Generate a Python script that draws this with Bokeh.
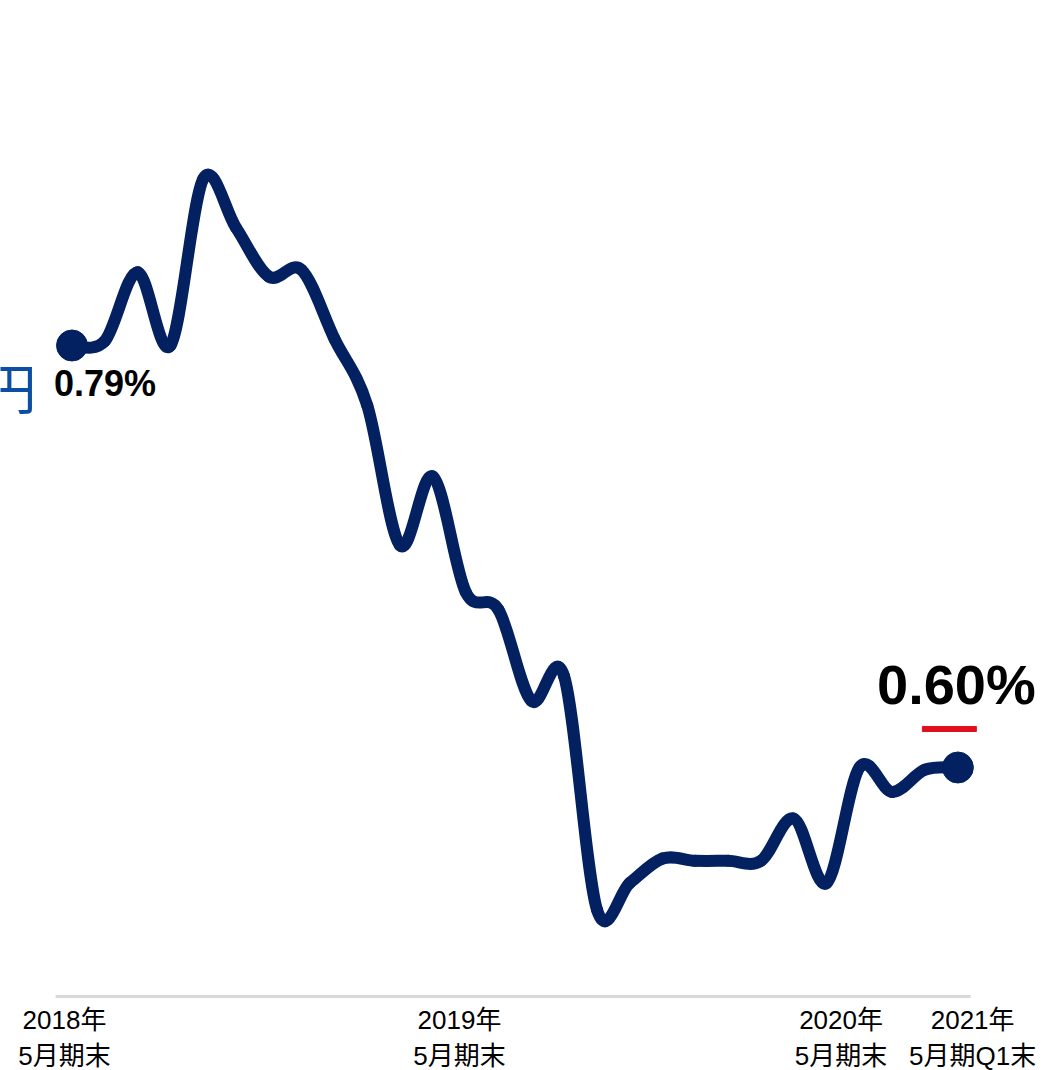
from bokeh.plotting import figure
from bokeh.models import Range1d, Label, ColumnDataSource
from bokeh.core.properties import value
from bokeh.embed import file_html
from bokeh.resources import INLINE

# ---- data (percent values, one per period) ----
periods = list(range(28))
rates = [0.790, 0.792, 0.823, 0.790, 0.865, 0.843, 0.821, 0.824, 0.793, 0.763,
         0.700, 0.731, 0.679, 0.671, 0.630, 0.641, 0.536, 0.548, 0.559, 0.558,
         0.558, 0.558, 0.577, 0.548, 0.600, 0.589, 0.599, 0.600]
tick_labels = ["2018年\n5月期末", "2019年\n5月期末", "2020年\n5月期末", "2021年\n5月期Q1末"]
start_label = "0.79%"
end_label = "0.60%"
side_char = "円"

NAVY = "#032160"

# pixel scale: 32.81 px per period, 2221.05 px per percentage point
Y_TOP = 0.94533
Y_BOT = Y_TOP - 1070 / 2221.05
BASE = Y_TOP - 996 / 2221.05

p = figure(width=1052, height=1070, output_backend="svg", toolbar_location=None,
           x_axis_location=None, y_axis_location=None, min_border=0,
           x_range=Range1d(-2.179, 29.884), y_range=Range1d(Y_BOT, Y_TOP))
p.outline_line_color = None
p.grid.visible = False
p.background_fill_color = "white"
p.border_fill_color = "white"

# smooth curve through the data points (Catmull-Rom -> cubic Bezier)
n = len(periods)
x0s, y0s, x1s, y1s, cx0, cy0, cx1, cy1 = [], [], [], [], [], [], [], []
for i in range(n - 1):
    pa = max(i - 1, 0)
    pb = min(i + 2, n - 1)
    x0s.append(periods[i]); y0s.append(rates[i])
    x1s.append(periods[i + 1]); y1s.append(rates[i + 1])
    cx0.append(periods[i] + (periods[i + 1] - periods[pa]) / 6.0)
    cy0.append(rates[i] + (rates[i + 1] - rates[pa]) / 6.0)
    cx1.append(periods[i + 1] - (periods[pb] - periods[i]) / 6.0)
    cy1.append(rates[i + 1] - (rates[pb] - rates[i]) / 6.0)
src = ColumnDataSource(dict(x0=x0s, y0=y0s, x1=x1s, y1=y1s, cx0=cx0, cy0=cy0, cx1=cx1, cy1=cy1))
p.bezier(x0="x0", y0="y0", x1="x1", y1="y1", cx0="cx0", cy0="cy0", cx1="cx1", cy1="cy1",
         source=src, line_color=NAVY, line_width=12, line_cap="round")

# end dots
p.scatter([periods[0], periods[-1]], [rates[0], rates[-1]], size=31, color=NAVY)

# baseline
p.segment(x0=[-0.5], y0=[BASE], x1=[27.39], y1=[BASE], line_color="#d9d9d9", line_width=3)

# value labels
p.text([periods[0]], [rates[0]], text=[start_label], x_offset=33, y_offset=38,
       text_align="center", text_baseline="middle", text_font=value("Liberation Sans"),
       text_font_style="bold", text_font_size="36px", text_color="black")
p.text([periods[-1]], [rates[-1]], text=[end_label], x_offset=-1.5, y_offset=-83,
       text_align="center", text_baseline="middle", text_font=value("Liberation Sans"),
       text_font_style="bold", text_font_size="56px", text_color="black")

# red dash under the end value
p.rect(x=[periods[-1] - 8.5 / 32.81], y=[rates[-1] + 38.5 / 2221.05], width=54, height=5,
       width_units="screen", height_units="screen", color="#E0101C")

# partially visible character at left edge
p.add_layout(Label(x=36, y=1070 - 386, x_units="screen", y_units="screen", text=side_char,
                   text_align="right", text_baseline="middle", text_font="Noto Sans CJK JP",
                   text_font_size="54px", text_color="#0B4EA2"))

# category labels along the bottom
tick_pos = [-0.229, 11.81, 23.44, 27.45]
p.text(tick_pos, [BASE] * len(tick_pos), text=tick_labels, y_offset=41,
       text_align="center", text_baseline="middle",
       text_font=value("'Liberation Sans', 'Noto Sans CJK JP'"),
       text_font_size="26px", text_line_height=1.2, text_color="black")

open("out.html", "w").write(file_html(p, INLINE))
